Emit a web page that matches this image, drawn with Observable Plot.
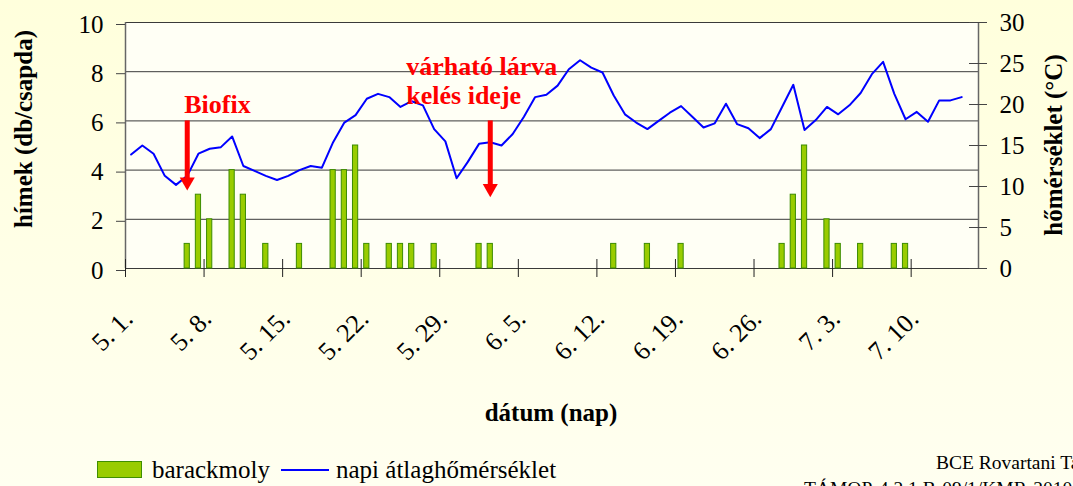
<!DOCTYPE html>
<html>
<head>
<meta charset="utf-8">
<script src="https://cdn.jsdelivr.net/npm/d3@7"></script>
<script src="https://cdn.jsdelivr.net/npm/@observablehq/plot@0.6"></script>
<style>
  body { margin: 0; }
  #wrap { position: relative; width: 1073px; height: 486px; overflow: hidden;
          background: linear-gradient(#ffffdc, #fffff0);
          font-family: "Liberation Serif", "Times New Roman", serif; color: #000; }
  #chart { position: absolute; left: 0; top: 0; }
  .abs { position: absolute; white-space: nowrap; }
  .ttl { font-weight: bold; font-size: 25px; }
</style>
</head>
<body>
<div id="wrap">
  <div id="chart"></div>
  <div class="abs ttl" id="ytitleL" style="left:24px;top:129px;transform:translate(-50%,-50%) rotate(-90deg);">hímek (db/csapda)</div>
  <div class="abs ttl" id="ytitleR" style="left:1054px;top:145px;transform:translate(-50%,-50%) rotate(-90deg);">hőmérséklet (°C)</div>
  <div class="abs ttl" id="xtitle" style="left:551px;top:413px;transform:translate(-50%,-50%);">dátum (nap)</div>
  <div class="abs" id="legend" style="left:97px;top:455px;font-size:25px;line-height:29px;display:flex;align-items:center;">
    <span style="display:inline-block;width:43px;height:15px;background:#99cc00;border:1px solid #3f8f00;"></span>
    <span style="margin-left:10px;">barackmoly</span>
    <span style="display:inline-block;width:48px;height:2px;background:#0000ff;margin-left:11px;"></span>
    <span style="margin-left:7px;">napi átlaghőmérséklet</span>
  </div>
  <div class="abs" style="left:936px;top:452px;font-size:19.5px;">BCE Rovartani Tanszék</div>
  <div class="abs" style="left:804px;top:478px;font-size:19.5px;">TÁMOP-4.2.1.B-09/1/KMR-2010-0005</div>
</div>
<script>
// ---- data ----
const nDays = 76; // 5.1. .. 7.15.
const tickDays = [0, 7, 14, 21, 28, 35, 42, 49, 56, 63, 70];
const tickLabels = ["5. 1.", "5. 8.", "5. 15.", "5. 22.", "5. 29.", "6. 5.", "6. 12.", "6. 19.", "6. 26.", "7. 3.", "7. 10."];
const countTicks = [0, 2, 4, 6, 8, 10];
const tempTicks = [0, 5, 10, 15, 20, 25, 30];

// daily mean temperature (°C), day 0 = 5.1.
const temperature = [
  13.9, 15.0, 14.0, 11.3, 10.2, 11.3, 14.0, 14.6, 14.8, 16.1,
  12.5, 11.9, 11.3, 10.8, 11.3, 12.0, 12.5, 12.3, 15.4, 17.8,
  18.7, 20.7, 21.3, 20.9, 19.7, 20.4, 19.9, 17.0, 15.5, 11.0,
  13.0, 15.2, 15.4, 15.0, 16.4, 18.5, 20.9, 21.2, 22.3, 24.3,
  25.4, 24.5, 23.9, 21.1, 18.8, 17.8, 17.0, 18.0, 19.0, 19.8,
  18.5, 17.2, 17.7, 20.1, 17.6, 17.1, 15.9, 17.0, 19.7, 22.4,
  16.9, 18.1, 19.7, 18.8, 19.9, 21.4, 23.7, 25.2, 21.3, 18.2,
  19.1, 17.9, 20.5, 20.5, 20.9
];

// peach twig borer males per trap
const catchDays   = [5, 6, 7, 9, 10, 12, 15, 18, 19, 20, 21, 23, 24, 25, 27, 31, 32, 43, 46, 49, 58, 59, 60, 62, 63, 65, 68, 69];
const catchCounts = [1, 3, 2, 4, 3,  1,  1,  4,  4,  5,  1,  1,  1,  1,  1,  1,  1,  1,  1,  1,  1,  3,  5,  2,  1,  1,  1,  1];

// annotations
const arrowDays  = [5, 32];
const arrowTop   = [6, 6];
const arrowTip   = [3.17, 2.9];
const arrowTexts = ["Biofix", "várható lárva\nkelés ideje"];

// ---- tables ----
const tempRatio = 3; // right axis 0–30 mapped onto left axis 0–10
const tempData = temperature.map((t, i) => ({day: i, temp: t}));
const catchData = catchDays.map((d, i) => ({day: d, count: catchCounts[i]}));
const arrows = arrowDays.map((d, i) => ({day: d, top: arrowTop[i], tip: arrowTip[i], text: arrowTexts[i]}));
const labelOf = new Map(tickDays.map((d, i) => [d, tickLabels[i]]));
const mid = d => d.day + 0.5;

const red = "#ff0000";
const plot = Plot.plot({
  width: 1073,
  height: 390,
  marginLeft: 125,
  marginRight: 95,
  marginTop: 22,
  marginBottom: 122,
  style: {background: "transparent", fontFamily: "Liberation Serif, Times New Roman, serif", fontSize: "25px", color: "#000"},
  x: {type: "linear", domain: [0, nDays]},
  y: {domain: [0, 10]},
  marks: [
    Plot.frame({fill: "#fffff5", stroke: null}),
    Plot.ruleY(countTicks, {stroke: "#3a3a3a", strokeWidth: 1}),
    Plot.ruleX([0, nDays], {stroke: "#666", strokeWidth: 1.5}),
    Plot.ruleX(tickDays, {x: d => d, y1: 0, y2: 0, insetTop: -9, insetBottom: -9, stroke: "#222"}),
    Plot.ruleY(tempTicks, {y: t => t / tempRatio, x1: nDays, x2: nDays, insetLeft: -9, insetRight: -9, stroke: "#444"}),
    Plot.rectY(catchData, {x1: d => d.day, x2: d => d.day + 1, y: "count", insetLeft: 3, insetRight: 3,
      fill: "#99cc00", stroke: "#3c8c00", strokeWidth: 1}),
    Plot.line(tempData, {x: mid, y: d => d.temp / tempRatio, stroke: "#0000ff", strokeWidth: 2}),
    Plot.ruleX(arrows, {x: mid, y1: "top", y2: "tip", insetBottom: 12, stroke: red, strokeWidth: 5}),
    Plot.dot(arrows, {x: mid, y: "tip", symbol: "triangle", r: 5.6, rotate: 180, dy: -8.7, fill: red, stroke: null}),
    Plot.text(arrows.slice(0, 1), {x: mid, y: "top", text: "text", textAnchor: "start", dx: -3, dy: -16,
      fill: red, fontWeight: "bold", fontSize: 26}),
    Plot.text(arrows.slice(1), {x: mid, y: "top", text: "text", textAnchor: "start", dx: -84, dy: -41,
      lineHeight: 1.115, fill: red, fontWeight: "bold", fontSize: 26}),
    Plot.axisY(countTicks, {anchor: "left", tickSize: 9, tickPadding: 13, dy: 2, fontSize: 25, label: null, stroke: "#444"}),
    Plot.axisY(tempTicks.map(t => t / tempRatio), {anchor: "right", tickSize: 0, tickPadding: 21, fontSize: 25, label: null,
      tickFormat: d => String(Math.round(d * tempRatio))}),
    Plot.axisX(tickDays, {anchor: "bottom", tickSize: 0, tickPadding: 46, dx: 3, tickRotate: -45, fontSize: 26, label: null,
      tickFormat: d => labelOf.get(d)})
  ]
});
document.getElementById("chart").appendChild(plot);
</script>
</body>
</html>
